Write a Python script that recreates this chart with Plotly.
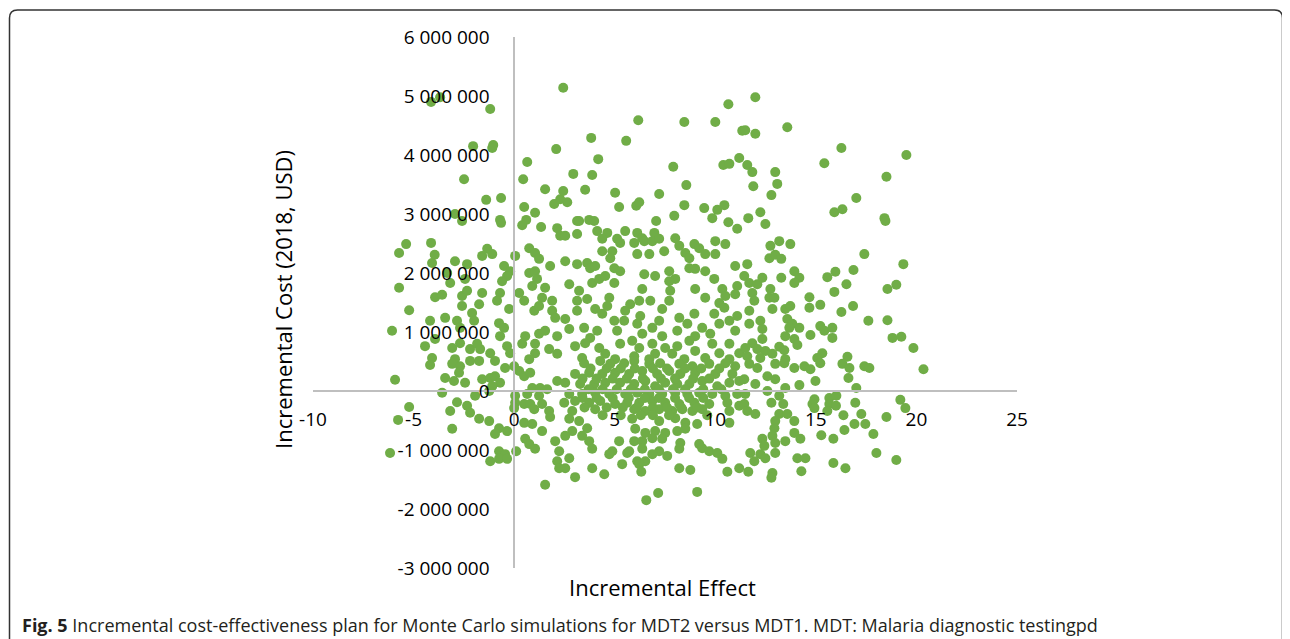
import plotly.graph_objects as go

# ---- data: (incremental effect, incremental cost in million USD) ----
sims_top = [
    (2.44,5.14),(-4.13,4.90),(-3.68,4.98),(-1.19,4.78),(-2.04,4.15),(-1.04,4.17),(-1.09,4.12),(-2.49,3.59),
    (-1.39,3.24),(-0.65,3.27),(-2.94,3.00),(-0.70,2.90),(2.09,4.10),(0.65,3.88),(0.45,3.59),(1.54,3.42),
    (1.99,3.17),(2.29,3.25),(0.50,3.12),(1.04,3.02),(0.60,2.90),
    (10.65,4.86),(6.17,4.59),(8.46,4.56),(10.0,4.56),(3.83,4.29),(5.57,4.24),(11.34,4.41),(4.18,3.93),
    (11.19,3.95),(10.40,3.83),(10.70,3.85),(7.91,3.80),(2.94,3.68),(3.88,3.66),(8.56,3.49),(2.44,3.39),
    (3.53,3.41),(2.64,3.20),(5.02,3.36),(7.21,3.34),(5.22,3.12),(6.07,3.14),(6.22,3.20),(8.46,3.15),
    (9.45,3.10),(10.10,3.07),(10.45,3.15),(7.96,2.97),(9.85,2.93),(3.13,2.88),(3.73,2.90),(7.06,2.88),
    (10.65,2.86),
    (11.99,4.98),(13.58,4.47),(11.49,4.42),(11.99,4.36),(16.27,4.12),(19.50,4.00),(15.42,3.86),(11.59,3.83),
    (11.84,3.71),(12.98,3.71),(18.51,3.63),(11.89,3.47),(13.08,3.51),(12.79,3.32),(17.01,3.27),(15.92,3.03),
    (16.32,3.08),(11.64,2.93),(12.24,3.03),(18.41,2.93),
]
sims_left_upper = [
    (-2.59,2.88),(-0.65,2.85),(0.40,2.81),(1.34,2.78),(2.14,2.76),(2.29,2.63),(-5.37,2.49),(-4.13,2.51),
    (-5.72,2.34),(-3.95,2.31),(-1.34,2.41),(-1.09,2.32),(-1.59,2.29),(0.05,2.29),(0.75,2.42),(1.04,2.34),
    (1.24,2.24),(1.79,2.12),(-4.08,2.17),(-2.94,2.20),(-2.34,2.15),(-0.50,2.12),(-0.20,2.03),(-0.35,1.95),
    (-0.60,1.86),(-3.33,2.00),(-3.18,1.83),(-2.44,1.90),(0.75,2.00),(1.04,2.03),(1.14,1.90),(0.90,1.78),
    (-5.72,1.75),(-3.93,1.59),(-3.58,1.63),(-2.59,1.61),(-2.34,1.70),(-1.59,1.66),(-0.70,1.66),(-0.85,1.53),
    (0.25,1.66),(0.50,1.53),(1.54,1.75),(1.39,1.58),(1.89,1.53),(-2.59,1.44),(-1.74,1.47),(-2.09,1.32),
    (-0.25,1.39),(1.00,1.36),(1.24,1.44),(1.89,1.36),(2.04,1.24),(-5.22,1.37),(-4.18,1.19),(-3.43,1.24),
    (-2.84,1.19),(-2.69,1.07),(-1.99,1.19),(-0.75,1.15),(-0.50,1.07),(-0.70,0.93),(0.55,0.93),(1.24,0.97),
    (1.54,1.02),(2.14,0.93),(-6.07,1.02),(-4.43,0.76),(-3.93,0.88),(-3.08,0.73),(-2.69,0.81),(-2.19,0.71),
    (-1.84,0.80),(-1.69,0.71),(-1.19,0.64),(-0.35,0.76),(-0.20,0.64),(0.40,0.80),(1.04,0.80),(1.04,0.64),
    (1.74,0.71),(2.14,0.63),(-4.08,0.56),(-2.94,0.54),(-2.19,0.51),(-0.95,0.51),(0.75,0.54),
]
sims_mid_upper = [
    (3.23,2.88),(3.98,2.88),(11.09,2.75),(3.13,2.66),(2.54,2.63),(4.13,2.71),(4.63,2.68),(4.38,2.58),
    (5.52,2.71),(5.12,2.58),(5.27,2.51),(6.12,2.68),(6.37,2.59),(5.97,2.51),(6.47,2.54),(6.97,2.68),
    (6.87,2.54),(7.21,2.58),(8.01,2.59),(8.21,2.46),(8.96,2.49),(9.20,2.42),(10.0,2.54),(10.50,2.49),
    (4.38,2.37),(4.88,2.37),(4.78,2.25),(6.12,2.32),(6.72,2.32),(7.46,2.37),(8.51,2.34),(8.71,2.25),
    (9.50,2.32),(10.0,2.32),(2.54,2.20),(3.13,2.15),(3.63,2.17),(3.78,2.08),(4.03,2.12),(4.98,2.08),
    (5.27,2.03),(4.98,1.83),(6.47,1.98),(7.01,1.95),(7.71,2.03),(8.01,1.90),(7.71,1.86),(8.71,2.08),
    (9.00,2.07),(9.50,2.03),(9.95,1.90),(10.99,2.12),(11.09,1.78),(2.74,1.81),(3.23,1.70),(3.13,1.53),
    (3.88,1.83),(4.23,1.90),(4.53,1.95),(3.63,1.56),(4.73,1.58),(4.63,1.44),(6.37,1.73),(6.22,1.53),
    (5.77,1.47),(5.52,1.36),(6.77,1.53),(7.76,1.70),(7.71,1.53),(7.36,1.39),(9.00,1.73),(9.50,1.58),
    (10.35,1.73),(10.50,1.61),(10.20,1.49),(10.45,1.41),(10.99,1.64),(3.13,1.36),(4.03,1.39),(4.38,1.31),
    (2.54,1.22),(2.74,1.05),(3.48,1.07),(4.13,1.02),(3.78,0.90),(4.98,1.19),(5.47,1.19),(5.12,1.02),
    (6.27,1.27),(6.12,1.14),(6.37,0.97),(6.87,1.07),(7.21,1.19),(7.36,0.93),(8.21,1.24),(8.11,1.02),
    (8.61,1.14),(8.96,1.31),(9.35,1.07),(9.00,0.93),(9.95,1.31),(10.20,1.14),(9.75,0.97),(10.70,1.19),
    (10.99,1.02),(11.09,1.27),(3.03,0.76),(3.53,0.81),(4.23,0.73),(4.53,0.63),(5.27,0.80),(5.87,0.85),
    (6.22,0.73),(5.97,0.59),(6.87,0.80),(7.01,0.63),(7.51,0.73),(8.11,0.76),(7.86,0.63),(8.71,0.85),
    (9.00,0.68),(9.85,0.80),(10.20,0.64),(10.70,0.80),(11.19,0.64),(3.38,0.56),(5.02,0.54),(6.72,0.54),
    (8.46,0.54),(9.50,0.56),(10.70,0.54),
]
sims_right_upper = [
    (12.49,2.83),(18.46,2.88),(12.74,2.46),(13.18,2.54),(13.73,2.49),(12.69,2.25),(12.98,2.31),(13.28,2.24),
    (17.41,2.32),(19.35,2.15),(11.59,2.15),(11.44,1.95),(13.93,2.03),(14.18,1.92),(13.93,1.83),(13.28,1.92),
    (15.57,1.93),(15.97,2.02),(16.87,2.05),(16.52,1.81),(18.56,1.73),(19.00,1.80),(11.69,1.83),(12.09,1.81),
    (12.34,1.92),(12.74,1.73),(12.69,1.58),(12.94,1.58),(11.84,1.66),(11.94,1.53),(14.68,1.59),(14.68,1.41),
    (15.22,1.46),(15.92,1.68),(16.85,1.44),(16.27,1.34),(11.69,1.36),(12.84,1.39),(13.48,1.39),(13.73,1.44),
    (17.61,1.19),(18.56,1.20),(11.69,1.14),(12.24,1.19),(12.34,1.05),(13.58,1.22),(13.83,1.14),(14.18,1.07),
    (13.68,1.07),(15.22,1.10),(15.42,1.02),(15.82,1.07),(15.82,0.90),(14.73,0.95),(13.48,0.93),(13.93,0.88),
    (14.08,0.78),(12.34,0.88),(11.84,0.81),(18.81,0.90),(19.25,0.92),(19.85,0.73),(11.49,0.73),(12.09,0.71),
    (12.49,0.68),(13.18,0.75),(13.43,0.69),(15.32,0.64),(15.07,0.56),(16.57,0.58),(11.59,0.59),(12.24,0.56),
    (12.84,0.63),(13.48,0.54),(20.35,0.37),
]
sims_left_lower = [
    (-4.18,0.44),(-3.08,0.46),(-2.69,0.42),(-1.74,0.51),(-0.45,0.39),(0.0,0.42),(0.25,0.34),(0.50,0.25),
    (0.80,0.31),(-5.92,0.19),(-3.43,0.22),(-2.99,0.17),(-2.74,0.31),(-2.44,0.14),(-1.59,0.20),(-1.19,0.22),
    (-0.95,0.25),(-0.70,0.14),(-1.09,0.08),(-1.24,0.0),(-3.58,-0.03),(-1.94,-0.08),(0.05,-0.08),(0.05,-0.20),
    (0.0,-0.29),(0.65,-0.05),(0.90,0.05),(1.29,0.05),(1.64,0.03),(1.24,-0.08),(2.14,0.17),(-5.22,-0.27),
    (-2.84,-0.19),(-2.34,-0.25),(-2.19,-0.37),(-3.18,-0.34),(-1.74,-0.47),(-1.24,-0.51),(0.50,-0.22),(0.80,-0.22),
    (1.00,-0.31),(1.39,-0.22),(1.74,-0.34),(1.79,-0.44),(-5.77,-0.49),(-3.08,-0.64),(-0.75,-0.63),(-0.35,-0.68),
    (-0.95,-0.73),(0.50,-0.54),(0.90,-0.56),(1.39,-0.68),(0.55,-0.81),(0.75,-0.90),(1.04,-0.98),(2.04,-0.85),
    (2.24,-1.02),(-6.17,-1.05),(-0.75,-1.02),(-0.45,-1.07),(-1.19,-1.19),(-0.75,-1.15),(-0.35,-1.15),(0.10,-1.02),
    (2.14,-1.19),(2.24,-1.31),(1.54,-1.59),
]
sims_mid_lower = [
    (3.48,0.47),(4.28,0.51),(4.78,0.46),(5.47,0.47),(5.97,0.51),(6.72,0.46),(7.26,0.47),(8.21,0.46),
    (8.86,0.42),(9.70,0.46),(10.50,0.47),(10.99,0.42),
    (3.03,0.29),(3.73,0.31),(4.38,0.29),(5.02,0.31),(5.72,0.29),(6.37,0.34),(7.11,0.29),(7.71,0.34),
    (8.26,0.29),(9.00,0.31),(10.0,0.29),(10.85,0.29),
    (2.54,0.14),(3.28,0.12),(3.98,0.12),(4.53,0.14),(5.27,0.14),(5.97,0.12),(6.52,0.17),(7.01,0.08),
    (7.51,0.14),(8.11,0.12),(8.71,0.12),(9.35,0.17),(10.10,0.08),(10.70,0.14),(11.19,0.17),
    (2.74,-0.05),(3.38,-0.05),(4.03,-0.03),(4.73,-0.05),(5.52,-0.05),(6.12,-0.03),(6.72,-0.05),(7.36,-0.05),
    (8.01,-0.03),(8.61,-0.05),(9.20,-0.03),(9.85,-0.05),(10.50,-0.08),(11.09,-0.05),
    (2.49,-0.20),(3.03,-0.17),(3.73,-0.20),(4.28,-0.17),(5.02,-0.22),(5.62,-0.20),(6.22,-0.20),(6.87,-0.17),
    (7.51,-0.20),(8.21,-0.22),(8.96,-0.20),(9.70,-0.22),(10.60,-0.20),(11.19,-0.25),
    (2.89,-0.34),(4.03,-0.31),(5.97,-0.31),(6.52,-0.34),(7.21,-0.31),(7.86,-0.34),(8.36,-0.31),(8.86,-0.34),
    (9.35,-0.31),(10.70,-0.34),
    (2.74,-0.47),(3.23,-0.51),(5.87,-0.47),(7.21,-0.51),(8.01,-0.46),(8.51,-0.54),(9.10,-0.56),(10.70,-0.54),
    (2.89,-0.68),(3.63,-0.63),(6.02,-0.64),(6.52,-0.71),(7.01,-0.68),(7.51,-0.71),(8.11,-0.68),(8.51,-0.64),
    (2.54,-0.76),(3.38,-0.76),(3.73,-0.85),(5.22,-0.85),(5.97,-0.85),(6.37,-0.85),(6.87,-0.80),(7.36,-0.81),
    (8.26,-0.88),(9.20,-0.90),
    (3.88,-0.98),(4.88,-1.02),(5.72,-1.02),(6.37,-0.98),(7.21,-1.02),(8.21,-0.98),(9.35,-0.97),(9.70,-1.02),
    (10.10,-1.05),(4.73,-1.07),(5.62,-1.05),(6.87,-1.07),(7.61,-1.10),
    (2.74,-1.14),(6.12,-1.19),(6.52,-1.19),(10.35,-1.15),(2.54,-1.31),(3.88,-1.31),(5.37,-1.24),(6.22,-1.24),
    (8.21,-1.31),(8.76,-1.34),(10.60,-1.37),(11.19,-1.31),(3.03,-1.46),(4.48,-1.41),(6.32,-1.37),(7.16,-1.73),
    (6.57,-1.85),(9.10,-1.71),
]
# dense core near (7, 0) where single dots overlap (estimated)
sims_core = [
    (3.8,0.38),(4.6,0.38),(5.3,0.38),(6.0,0.38),(6.9,0.38),(7.6,0.38),(8.5,0.38),(9.3,0.38),(10.2,0.38),
    (3.4,0.21),(4.1,0.21),(4.9,0.21),(5.6,0.21),(6.4,0.21),(7.3,0.21),(8.0,0.21),(8.9,0.21),(9.7,0.21),
    (3.7,0.03),(4.4,0.03),(5.1,0.03),(5.8,0.03),(6.5,0.03),(7.2,0.03),(7.9,0.03),(8.5,0.03),(9.4,0.03),(10.3,0.03),
    (3.4,-0.12),(4.1,-0.12),(4.9,-0.12),(5.7,-0.12),(6.5,-0.12),(7.2,-0.12),(8.0,-0.12),(8.7,-0.12),(9.4,-0.12),
    (3.5,-0.28),(4.6,-0.28),(5.4,-0.28),(6.1,-0.28),(6.9,-0.28),(7.6,-0.28),(8.3,-0.28),(9.1,-0.28),
    (4.4,-0.41),(5.3,-0.41),(6.3,-0.41),(6.9,-0.41),(7.7,-0.41),(9.6,-0.41),
]
sims_right_lower = [
    (11.69,0.46),(12.09,0.39),(12.98,0.46),(13.43,0.47),(13.93,0.39),(14.43,0.42),(14.73,0.37),(15.22,0.47),
    (16.32,0.46),(16.67,0.39),(17.41,0.42),(17.66,0.39),
    (11.44,0.20),(11.99,0.12),(12.59,0.25),(12.98,0.20),(13.48,0.05),(14.18,0.10),(14.98,0.17),(16.62,0.22),
    (17.01,0.05),
    (11.49,-0.05),(11.44,-0.22),(11.59,-0.34),(11.99,-0.39),(12.59,0.0),(13.18,-0.08),(12.79,-0.20),(13.38,-0.22),
    (14.93,-0.14),(14.83,-0.22),(14.93,-0.29),(15.67,-0.12),(16.02,-0.08),(15.67,-0.22),(16.0,-0.25),(15.57,-0.34),
    (16.96,-0.20),(19.20,-0.15),(19.45,-0.29),
    (13.18,-0.39),(13.58,-0.39),(12.98,-0.51),(13.93,-0.51),(16.37,-0.41),(17.26,-0.39),(18.51,-0.44),(16.92,-0.56),
    (17.46,-0.56),(12.94,-0.63),(16.42,-0.66),
    (12.84,-0.76),(13.48,-0.85),(13.93,-0.71),(14.23,-0.81),(15.27,-0.75),(15.87,-0.81),(17.86,-0.73),(12.34,-0.81),
    (12.44,-0.93),(12.98,-0.88),(12.98,-1.05),(11.74,-1.05),(12.24,-1.07),(12.49,-1.14),(11.94,-1.19),(14.08,-1.14),
    (14.48,-1.14),(18.01,-1.05),(19.00,-1.17),(15.87,-1.22),(16.47,-1.31),(11.64,-1.37),(12.84,-1.39),(12.79,-1.47),
    (14.28,-1.36),
]

x_ticks = [-10, -5, 0, 5, 10, 15, 20, 25]
y_tick_vals = [-3e6, -2e6, -1e6, 0, 1e6, 2e6, 3e6, 4e6, 5e6, 6e6]
y_tick_text = ["-3 000 000", "-2 000 000", "-1 000 000", "0", "1 000 000", "2 000 000",
               "3 000 000", "4 000 000", "5 000 000", "6 000 000"]
x_title = "Incremental Effect"
y_title = "Incremental Cost (2018, USD)"
caption = ("<b>Fig. 5</b> Incremental cost-effectiveness plan for Monte Carlo simulations for "
           "MDT2 versus MDT1. MDT: Malaria diagnostic testingpd")

all_sims = (sims_top + sims_left_upper + sims_mid_upper + sims_right_upper
            + sims_left_lower + sims_mid_lower + sims_core + sims_right_lower)
effect = [p[0] for p in all_sims]
cost = [p[1] * 1e6 for p in all_sims]

# ---- layout geometry (page body has an 8px margin, so the figure starts at 8,8) ----
OFF = 8
W, H = 1290 - OFF, 639 - OFF
L = 313 - OFF
T = 37 - OFF
R = W - (1017 - OFF)
B = H - (568 - OFF)
PW, PH = W - L - R, H - T - B


def px(xp):
    return (xp - OFF - L) / PW


def py(yp):
    return (H - B - (yp - OFF)) / PH


FONT = "Open Sans"
GREEN = "#70AD47"
AXIS = "#BFBFBF"

fig = go.Figure()
fig.add_trace(go.Scatter(
    x=effect, y=cost, mode="markers",
    marker=dict(color=GREEN, size=10, line=dict(width=0)),
    hoverinfo="skip", showlegend=False,
))

x_range = [-10, 25]
y_range = [-3e6, 6e6]

fig.update_layout(
    width=W, height=H,
    margin=dict(l=L, r=R, t=T, b=B, pad=0),
    paper_bgcolor="white", plot_bgcolor="white",
    font=dict(family=FONT, color="#000000"),
    xaxis=dict(
        range=x_range, tickvals=x_ticks, ticktext=[str(v) for v in x_ticks],
        showgrid=False, zeroline=False, showline=True, linecolor=AXIS, linewidth=1.5,
        ticks="", tickfont=dict(size=19, family=FONT, color="#000"),
        anchor="free", position=(0 - y_range[0]) / (y_range[1] - y_range[0]),
        ticklabelstandoff=11,
    ),
    yaxis=dict(
        range=y_range, tickvals=y_tick_vals, ticktext=y_tick_text,
        showgrid=False, zeroline=False, showline=True, linecolor=AXIS, linewidth=1.5,
        ticks="", tickfont=dict(size=19, family=FONT, color="#000"),
        anchor="free", position=(0 - x_range[0]) / (x_range[1] - x_range[0]),
        ticklabelstandoff=20,
    ),
)

fig.add_annotation(text=y_title, xref="paper", yref="paper", x=px(283), y=py(300),
                   textangle=-90, showarrow=False, xanchor="center", yanchor="middle",
                   font=dict(size=22, family=FONT, color="#000"))
fig.add_annotation(text=x_title, xref="paper", yref="paper", x=px(662), y=py(587),
                   showarrow=False, xanchor="center", yanchor="middle",
                   font=dict(size=22, family=FONT, color="#000"))
fig.add_annotation(text=caption, xref="paper", yref="paper", x=px(20), y=py(625),
                   showarrow=False, xanchor="left", yanchor="middle",
                   font=dict(size=18, family=FONT, color="#231f20"))

# rounded frame around the figure (open at the bottom)
x0, x1, ytop, ybot, r = 9.5, 1282.5, 10, 639, 8
path = (f"M {px(x0)},{py(ybot)} L {px(x0)},{py(ytop + r)} "
        f"Q {px(x0)},{py(ytop)} {px(x0 + r)},{py(ytop)} "
        f"L {px(x1 - r)},{py(ytop)} Q {px(x1)},{py(ytop)} {px(x1)},{py(ytop + r)} "
        f"L {px(x1)},{py(ybot)}")
fig.add_shape(type="path", path=path, xref="paper", yref="paper",
              line=dict(color="#333333", width=1.5))

fig.write_html("out.html")
